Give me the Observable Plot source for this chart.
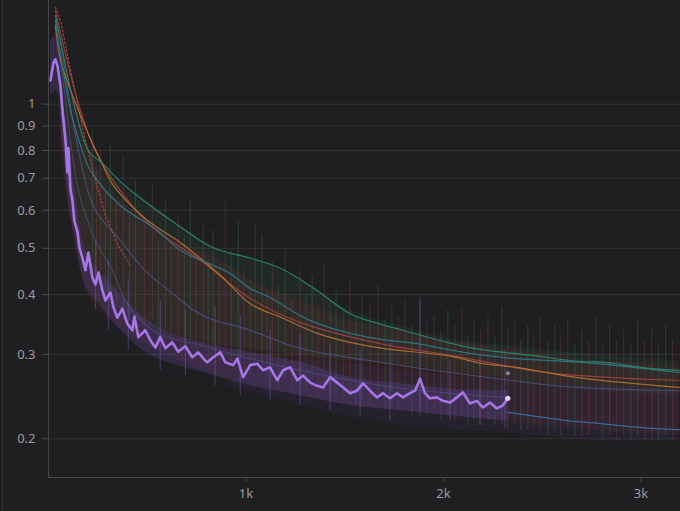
<!DOCTYPE html>
<html>
<head>
<meta charset="utf-8">
<script src="https://cdn.jsdelivr.net/npm/d3@7"></script>
<script src="https://cdn.jsdelivr.net/npm/@observablehq/plot@0.6"></script>
<style>
  html, body { margin: 0; padding: 0; background: #1f1e20; }
  #wrap { position: relative; width: 680px; height: 511px; overflow: hidden; }
  #edge { position: absolute; left: 2px; top: 0; width: 1px; height: 511px; background: #363636; }
</style>
</head>
<body>
<div id="wrap"><div id="edge"></div></div>
<script>
// ---- axis ticks ----
const xTicks = [1000, 2000, 3000];
const yTicks = [0.2, 0.3, 0.4, 0.5, 0.6, 0.7, 0.8, 0.9, 1];
const xDomain = [0, 3200];
const yDomain = [0.166, 1.646];

// ---- main run (purple), smoothed ----
const purpleX = [10,25,35,46,61,71,86,96,101,111,121,131,147,157,172,187,202,222,238,253,273,288,313,329,349,374,399,425,435,455,490,516,541,566,592,627,657,693,728,758,794,804,834,870,895,935,956,986,1021,1057,1087,1122,1158,1188,1224,1259,1289,1325,1360,1390,1426,1461,1492,1527,1562,1593,1628,1663,1694,1729,1765,1795,1830,1856,1881,1906,1931,1967,1997,2033,2068,2098,2134,2169,2199,2235,2270,2300,2326];
const purpleY = [1.12,1.22,1.24,1.20,1.09,0.97,0.84,0.72,0.81,0.665,0.63,0.57,0.54,0.50,0.477,0.45,0.49,0.434,0.42,0.445,0.408,0.389,0.404,0.376,0.358,0.374,0.348,0.337,0.36,0.326,0.337,0.321,0.310,0.326,0.309,0.318,0.304,0.312,0.296,0.303,0.291,0.289,0.296,0.303,0.289,0.285,0.294,0.269,0.285,0.287,0.278,0.282,0.265,0.278,0.282,0.265,0.271,0.262,0.258,0.256,0.269,0.262,0.256,0.249,0.252,0.261,0.252,0.244,0.249,0.243,0.249,0.244,0.249,0.252,0.267,0.249,0.243,0.244,0.240,0.238,0.244,0.250,0.237,0.240,0.2325,0.238,0.2314,0.2347,0.243];
// purple raw spread (band)
const purpleBandX = [10,40,71,101,137,187,263,364,516,769,1021,1274,1527,1780,2033,2326];
const purpleBandLo = [1.043,1.068,0.840,0.629,0.519,0.418,0.380,0.337,0.299,0.276,0.258,0.246,0.235,0.229,0.2235,0.218];
const purpleBandHi = [1.358,1.391,1.043,0.860,0.644,0.495,0.445,0.402,0.350,0.318,0.303,0.289,0.269,0.261,0.254,0.252];

// ---- other runs, smoothed ----
const tealX = [35,86,137,202,273,374,501,657,834,1021,1173,1239,1360,1527,1679,1795,2017,2184,2437,2690,2806,3029,3195];
const tealY = [1.532,1.205,0.970,0.800,0.752,0.683,0.620,0.558,0.501,0.477,0.454,0.439,0.408,0.365,0.347,0.337,0.318,0.3075,0.299,0.290,0.289,0.281,0.278];
const cyanX = [35,111,162,212,364,551,667,920,1021,1122,1325,1613,1866,2134,2371,2690,3195];
const cyanY = [1.495,0.970,0.820,0.727,0.614,0.545,0.495,0.443,0.412,0.3945,0.353,0.326,0.316,0.3015,0.294,0.289,0.275];
const orangeX = [35,61,162,263,329,501,667,870,1021,1188,1360,1527,1694,2033,2199,2371,2690,3195];
const orangeY = [1.46,1.234,0.947,0.763,0.676,0.572,0.514,0.439,0.383,0.357,0.332,0.318,0.309,0.2975,0.287,0.282,0.268,0.256];
const redX = [35,162,263,516,769,1021,1274,1679,2033,2523,3195];
const redY = [1.569,0.970,0.763,0.558,0.472,0.393,0.350,0.316,0.299,0.275,0.265];
const redRawX = [35,61,111,147,187,238,288,354,415];
const redRawY = [1.592,1.495,1.176,1.002,0.840,0.693,0.586,0.505,0.460];
const steelX = [35,86,152,238,324,389,455,551,769,1021,1274,1527,1780,2033,2326];
const steelY = [1.495,1.018,0.660,0.519,0.449,0.389,0.358,0.332,0.3135,0.294,0.278,0.265,0.255,0.249,0.244];
const blueX = [2326,2460,2639,2800,2892,3079,3195];
const blueY = [0.227,0.223,0.218,0.215,0.213,0.210,0.209];
const slateX = [61,162,238,364,490,642,779,1021,1274,1679,2033,2336,2639,3195];
const slateY = [1.358,0.763,0.600,0.519,0.449,0.398,0.362,0.337,0.309,0.289,0.275,0.265,0.2565,0.252];
const lavenderEnd = {x: 2326, y: 0.274};

// ---- raw noise haze for the other runs ----
const hazeX = [61,111,162,212,313,465,667,870,1072,1274,1527,1780,2033,2285,2538,2791,3195];
const greenHi = [1.358,1.068,0.903,0.800,0.710,0.644,0.558,0.495,0.467,0.428,0.371,0.345,0.324,0.3135,0.306,0.299,0.291];
const greenLo = [0.925,0.629,0.519,0.449,0.389,0.353,0.329,0.3135,0.306,0.299,0.291,0.285,0.276,0.268,0.258,0.252,0.246];
const redHi = [1.425,1.121,0.947,0.800,0.660,0.586,0.519,0.472,0.418,0.389,0.353,0.337,0.321,0.309,0.299,0.291,0.285];
const redLo = [0.800,0.572,0.449,0.389,0.353,0.321,0.291,0.271,0.258,0.246,0.235,0.229,0.2235,0.218,0.213,0.208,0.203];
const duskX = [900,1274,1780,2285,2791,3195];
const duskHi = [0.262,0.291,0.278,0.265,0.258,0.252];
const duskLo = [0.258,0.235,0.213,0.206,0.198,0.198];

// ---- spikes in the raw noise ----
const spikeX = [222,263,313,379,440,526,592,657,718,784,834,895,961,1047,1082,1133,1198,1274,1335,1395,1456,1527,1588,1669,1739,1805,1881,1952,2022,2093,2154,2225,2295,2361,2427,2488,2563,2629,2700,2771,2841,2912,2983,3054,3125];
const spikeTop = [0.881,0.800,0.820,0.781,0.693,0.676,0.629,0.586,0.629,0.558,0.545,0.629,0.572,0.558,0.532,0.472,0.495,0.449,0.439,0.460,0.408,0.428,0.398,0.418,0.377,0.389,0.398,0.362,0.371,0.377,0.353,0.362,0.377,0.353,0.345,0.362,0.345,0.353,0.337,0.362,0.345,0.337,0.353,0.337,0.345];
const spikeBottom = [0.472,0.428,0.389,0.353,0.371,0.353,0.337,0.321,0.321,0.3135,0.306,0.306,0.291,0.291,0.278,0.271,0.265,0.258,0.265,0.252,0.246,0.246,0.240,0.240,0.235,0.240,0.229,0.229,0.2235,0.2235,0.218,0.218,0.213,0.213,0.208,0.208,0.208,0.208,0.203,0.208,0.203,0.203,0.203,0.198,0.203];
const spike2X = [243,288,344,410,485,556,622,688,748,809,865,925,991,1021,1107,1163,1234,1304,1365,1426,1492,1557,1628,1704,1770,1840,1916,1987,2058,2123,2189,2260,2326,2392,2457,2528,2594,2665,2735,2806,2877,2948,3018,3089,3160];
const spike2Top = [0.727,0.660,0.629,0.586,0.558,0.519,0.507,0.532,0.484,0.472,0.460,0.495,0.449,0.428,0.408,0.418,0.389,0.398,0.380,0.389,0.371,0.362,0.380,0.353,0.362,0.345,0.353,0.337,0.345,0.329,0.337,0.329,0.337,0.321,0.329,0.321,0.329,0.3135,0.321,0.3135,0.321,0.3135,0.321,0.3135,0.321];
const spike2Bottom = [0.428,0.389,0.371,0.353,0.337,0.321,0.3135,0.306,0.299,0.291,0.291,0.285,0.278,0.271,0.265,0.258,0.252,0.252,0.246,0.246,0.240,0.235,0.235,0.229,0.229,0.2235,0.2235,0.218,0.218,0.213,0.213,0.213,0.208,0.208,0.208,0.203,0.203,0.203,0.203,0.198,0.198,0.198,0.198,0.198,0.198];
const purpleSpikeX = [238,303,404,566,693,844,971,1122,1274,1426,1578,1729,1881,2033,2184,2311];
const purpleSpikeTop = [0.519,0.472,0.428,0.389,0.371,0.377,0.362,0.337,0.329,0.3135,0.306,0.321,0.389,0.291,0.299,0.306];
const purpleSpikeBottom = [0.371,0.337,0.306,0.278,0.271,0.258,0.246,0.240,0.235,0.229,0.2235,0.218,0.2235,0.218,0.213,0.210];

// ---- build tables ----
const zip = (xs, ys) => xs.map((x, i) => ({x, y: ys[i]}));
const band = (xs, lo, hi) => xs.map((x, i) => ({x, lo: lo[i], hi: hi[i]}));
const purple = zip(purpleX, purpleY);
const purpleBand = band(purpleBandX, purpleBandLo, purpleBandHi);
const spikes = spikeX.map((x, i) => ({x, top: spikeTop[i], bottom: spikeBottom[i], k: i % 2}))
  .concat(spike2X.map((x, i) => ({x, top: spike2Top[i], bottom: spike2Bottom[i], k: (i + 1) % 2})));
const pSpikes = purpleSpikeX.map((x, i) => ({x, top: purpleSpikeTop[i], bottom: purpleSpikeBottom[i]}));

const lines = [
  {d: zip(steelX, steelY), c: "#45649a", w: 1.1, o: 0.55},
  {d: zip(slateX, slateY), c: "#4d5a8f", w: 1.1, o: 0.75},
  {d: zip(redX, redY), c: "#a9433f", w: 1.2, o: 0.85},
  {d: zip(orangeX, orangeY), c: "#bb7733", w: 1.2, o: 0.85},
  {d: zip(cyanX, cyanY), c: "#2f7f8f", w: 1.2, o: 0.85},
  {d: zip(tealX, tealY), c: "#2a8a72", w: 1.2, o: 0.9}
];

const chart = Plot.plot({
  width: 680,
  height: 511,
  marginLeft: 48,
  marginRight: 0,
  marginTop: 0,
  marginBottom: 34,
  style: {background: "#1f1e20", color: "#9c9c9c", fontFamily: "'Noto Sans', 'Open Sans', sans-serif", fontSize: "13px"},
  x: {domain: xDomain, label: null},
  y: {type: "log", domain: yDomain, label: null},
  marks: [
    Plot.gridY(yTicks, {stroke: "#333333", strokeOpacity: 1}),
    Plot.areaY(band(hazeX, greenLo, greenHi), {x: "x", y1: "lo", y2: "hi", fill: "#2f6e4e", fillOpacity: 0.14, curve: "catmull-rom", clip: true}),
    Plot.areaY(band(hazeX, redLo, redHi), {x: "x", y1: "lo", y2: "hi", fill: "#7a3236", fillOpacity: 0.17, curve: "catmull-rom", clip: true}),
    Plot.areaY(band(duskX, duskLo, duskHi), {x: "x", y1: "lo", y2: "hi", fill: "#3a2f55", fillOpacity: 0.25, curve: "catmull-rom", clip: true}),
    Plot.ruleX(spikes, {x: "x", y1: "bottom", y2: "top", stroke: d => d.k ? "#8a4a4a" : "#4a7a5e", strokeOpacity: 0.3, strokeWidth: 1.2}),
    Plot.line(zip(redRawX, redRawY), {x: "x", y: "y", stroke: "#a0443e", strokeWidth: 1.4, strokeDasharray: "1.5,2.5", strokeOpacity: 0.9, clip: true}),
    ...lines.map(l => Plot.line(l.d, {x: "x", y: "y", stroke: l.c, strokeWidth: l.w, strokeOpacity: l.o, curve: "catmull-rom", clip: true})),
    Plot.areaY(purpleBand, {x: "x", y1: "lo", y2: "hi", fill: "#5a4490", fillOpacity: 0.35, curve: "catmull-rom", clip: true}),
    Plot.ruleX(pSpikes, {x: "x", y1: "bottom", y2: "top", stroke: "#7c62b8", strokeOpacity: 0.4, strokeWidth: 1.2}),
    Plot.line(zip(blueX, blueY), {x: "x", y: "y", stroke: "#3f6ea5", strokeWidth: 1.3, strokeOpacity: 0.9, curve: "catmull-rom", clip: true}),
    Plot.line(purple, {x: "x", y: "y", stroke: "#a676e8", strokeWidth: 2.6, clip: true}),
    Plot.dot([purple[purple.length - 1]], {x: "x", y: "y", r: 2.6, fill: "#e2d4ff", stroke: "none"}),
    Plot.dot([lavenderEnd], {x: "x", y: "y", r: 2, fill: "#a898c8", fillOpacity: 0.8, stroke: "none"}),
    Plot.ruleX([xDomain[0]], {stroke: "#454545"}),
    Plot.ruleY([yDomain[0]], {stroke: "#4a4a4a"}),
    Plot.axisY(yTicks, {tickSize: 6, tickPadding: 7, stroke: "#4a4a4a", fill: "#9c9c9c", tickFormat: d => String(d)}),
    Plot.axisX(xTicks, {tickSize: 5, tickPadding: 6, stroke: "#4a4a4a", fill: "#9c9c9c", tickFormat: d => (d / 1000) + "k"})
  ]
});
document.getElementById("wrap").appendChild(chart);
</script>
</body>
</html>
